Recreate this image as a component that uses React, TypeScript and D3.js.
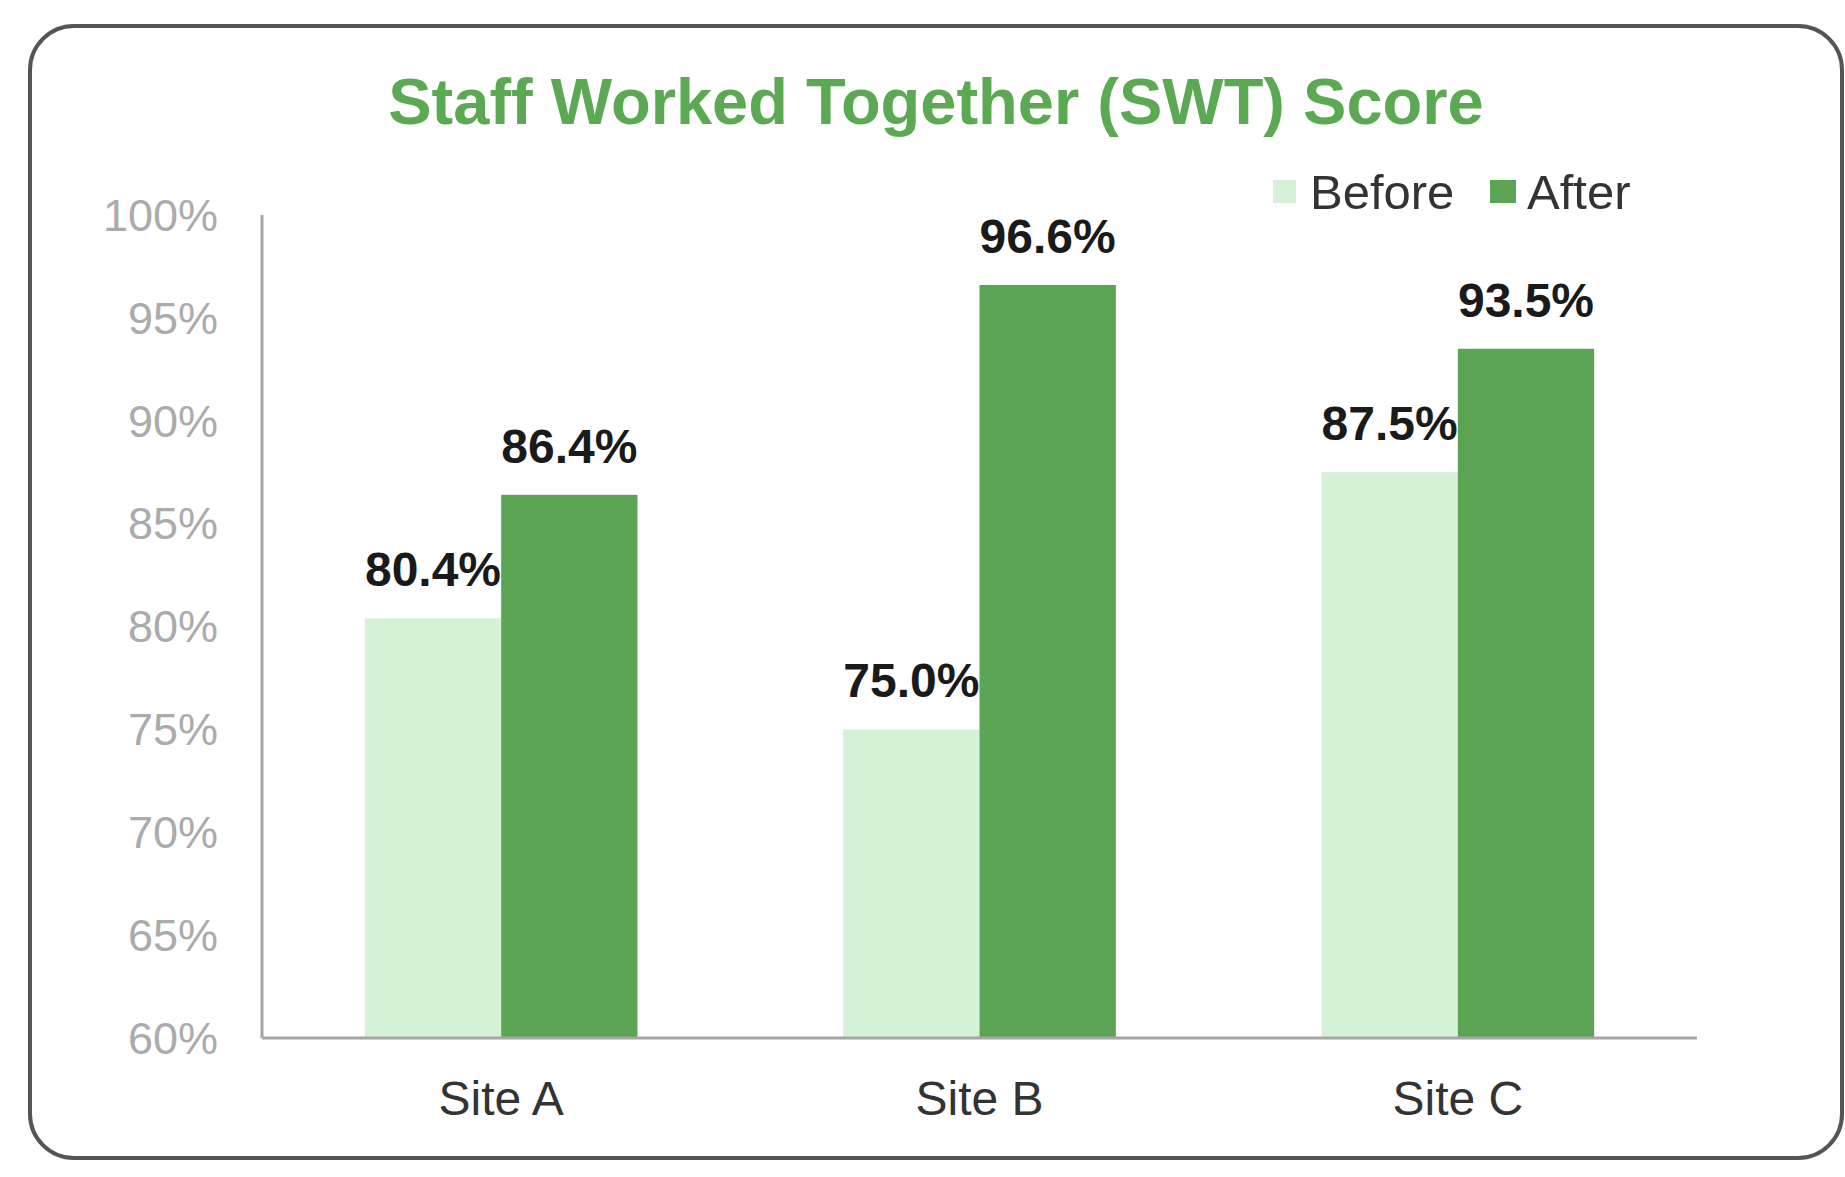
import React from "react";
import * as d3 from "d3";

const categories = ["Site A", "Site B", "Site C"];
const seriesNames = ["Before", "After"];
const beforeValues = [80.4, 75.0, 87.5];
const afterValues = [86.4, 96.6, 93.5];
const yTicks = [60, 65, 70, 75, 80, 85, 90, 95, 100];
const title = "Staff Worked Together (SWT) Score";

const W = 1845;
const H = 1177;
const colors = ["#d5f2d8", "#5ba453"];
const FONT = "'Liberation Sans', Arial, sans-serif";

export default function App() {
  const left = 262;
  const right = 1697;
  const top = 215;
  const bottom = 1038;

  const x = d3.scaleBand<string>().domain(categories).range([left, right]).paddingInner(0.43).paddingOuter(0.215);
  const xs = d3.scaleBand<string>().domain(seriesNames).range([0, x.bandwidth()]).padding(0);
  const y = d3.scaleLinear().domain([60, 100]).range([bottom, top]);

  const series = [beforeValues, afterValues];

  return (
    <svg width={W} height={H} style={{ position: "absolute", left: 0, top: 0, background: "#fff" }}>
      <rect x={0} y={0} width={W} height={H} fill="#ffffff" />
      <rect x={30} y={26} width={1812} height={1132} rx={44} ry={44} fill="#ffffff" stroke="#555555" strokeWidth={4} />
      <text x={936} y={124} textAnchor="middle" fontFamily={FONT} fontWeight="bold" fontSize={65} fill="#5ca953">
        {title}
      </text>

      {/* y tick labels */}
      {yTicks.map((t) => (
        <text key={t} x={218} y={y(t)} dy="0.35em" textAnchor="end" fontFamily={FONT} fontSize={45} fill="#ababab">
          {`${t}%`}
        </text>
      ))}

      {/* bars */}
      {categories.map((c, i) =>
        seriesNames.map((s, j) => {
          const v = series[j][i];
          const bx = (x(c) as number) + (xs(s) as number);
          const bw = xs.bandwidth();
          return (
            <g key={c + s}>
              <rect x={bx} y={y(v)} width={bw} height={bottom - y(v)} fill={colors[j]} />
              <text
                x={bx + bw / 2}
                y={y(v) - 32}
                textAnchor="middle"
                fontFamily={FONT}
                fontWeight="bold"
                fontSize={48}
                fill="#1a1a1a"
              >
                {`${v.toFixed(1)}%`}
              </text>
            </g>
          );
        })
      )}

      {/* axes */}
      <line x1={left} y1={top} x2={left} y2={bottom} stroke="#a6a6a6" strokeWidth={3} />
      <line x1={left} y1={bottom} x2={right} y2={bottom} stroke="#a6a6a6" strokeWidth={3} />

      {/* x labels */}
      {categories.map((c) => (
        <text
          key={c}
          x={(x(c) as number) + x.bandwidth() / 2}
          y={1115}
          textAnchor="middle"
          fontFamily={FONT}
          fontSize={48}
          fill="#333333"
        >
          {c}
        </text>
      ))}

      {/* legend */}
      <rect x={1273} y={180} width={23} height={23} fill={colors[0]} />
      <text x={1310} y={209} fontFamily={FONT} fontSize={49} fill="#333333">
        {seriesNames[0]}
      </text>
      <rect x={1490} y={180} width={26} height={23} fill={colors[1]} />
      <text x={1527} y={209} fontFamily={FONT} fontSize={49} fill="#333333">
        {seriesNames[1]}
      </text>
    </svg>
  );
}
